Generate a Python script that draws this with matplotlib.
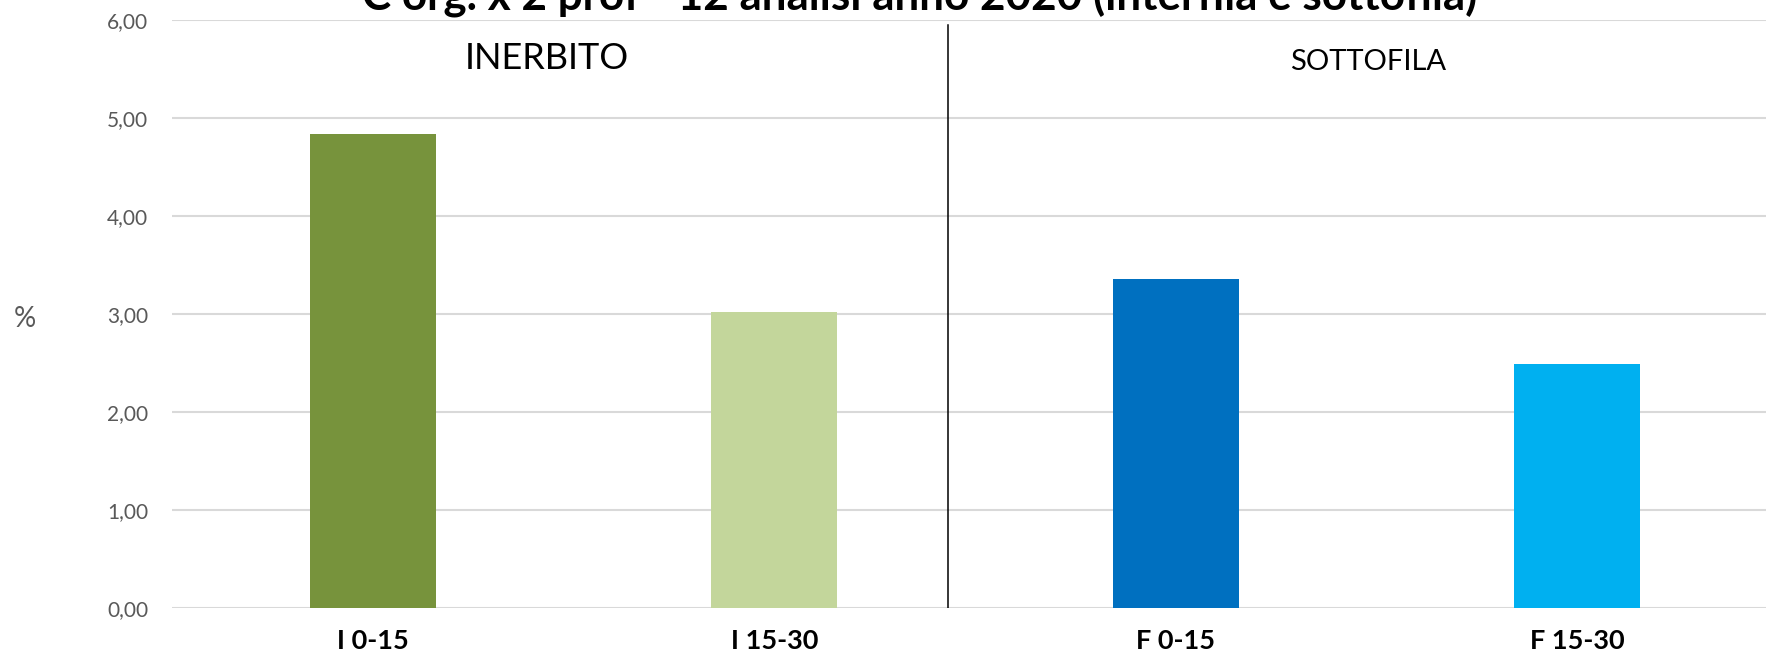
import matplotlib
matplotlib.use("Agg")
import matplotlib.pyplot as plt

categories = ["I 0-15", "I 15-30", "F 0-15", "F 15-30"]
values = [4.84, 3.02, 3.36, 2.49]
colors = ["#77933C", "#C3D69B", "#0070C0", "#00B0F0"]
yticks = [0, 1, 2, 3, 4, 5, 6]
ytick_labels = ["0,00", "1,00", "2,00", "3,00", "4,00", "5,00", "6,00"]
group_labels = ["INERBITO", "SOTTOFILA"]
title = "C org. x 2 prof - 12 analisi anno 2020 (interfila e sottofila)"

plt.rcParams['font.family'] = ['Lato', 'DejaVu Sans']

fig = plt.figure(figsize=(17.66, 6.59), dpi=100)
ax = fig.add_axes([172/1766, 1-608/659, 1606/1766, 588/659])

x = list(range(len(categories)))
ax.bar(x, values, width=0.314, color=colors, zorder=3)
ax.set_xlim(-0.5, 3.5)
ax.set_ylim(0, 6)
ax.set_yticks(yticks)
ax.set_yticklabels(ytick_labels, color="#595959", fontsize=15)
ax.set_xticks(x)
ax.set_xticklabels(categories, fontsize=19.5, fontweight="bold", color="black")
ax.tick_params(axis="y", length=0, pad=17)
ax.tick_params(axis="x", length=0, pad=15)
ax.grid(axis="y", color="#d9d9d9", linewidth=1.5, zorder=0)
for s in ax.spines.values():
    s.set_visible(False)

# divider line between groups
ax.plot([1.433, 1.433], [0, 5.95], color="black", linewidth=1.1, zorder=4)

fig.text(547/1766, 1-58.5/659, group_labels[0], ha="center", va="center",
         fontsize=26, color="black")
fig.text(1368/1766, 1-62.5/659, group_labels[1], ha="center", va="center",
         fontsize=21, color="black")

fig.text(25/1766, 1-319/659, "%", ha="center", va="center", fontsize=20, color="#595959")

fig.text(920/1766, 1-10/659, title, ha="center", va="baseline", fontsize=31.7,
         fontweight="bold", color="black")

fig.savefig("out.png", dpi=100)
